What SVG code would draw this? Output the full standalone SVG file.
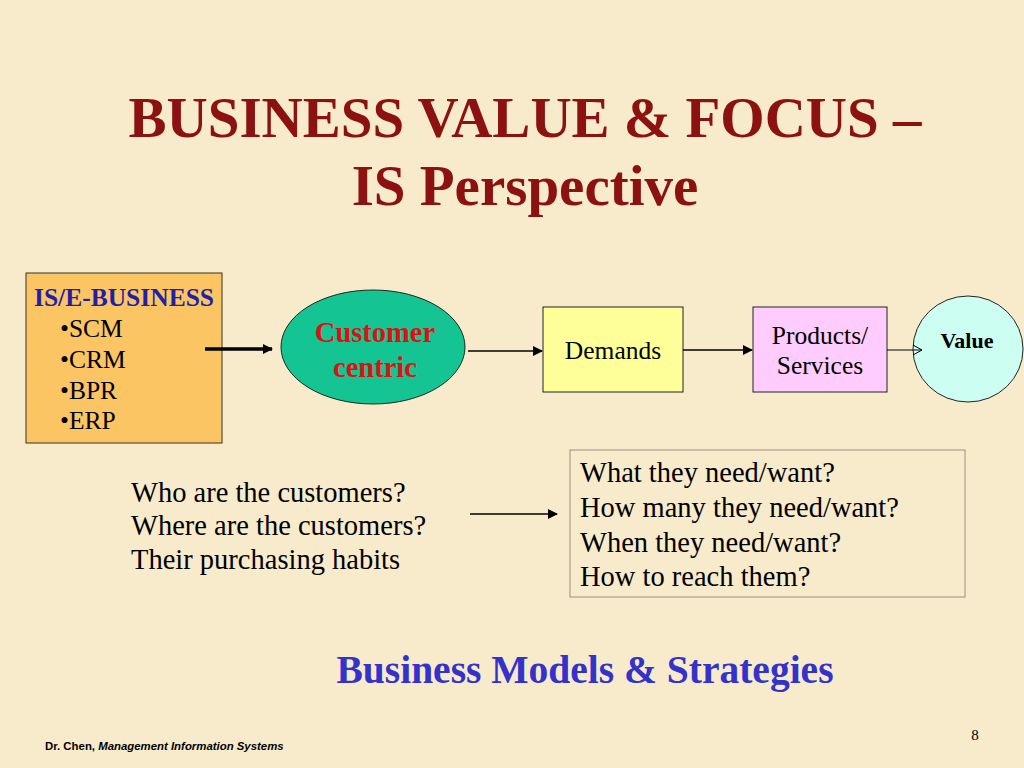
<svg xmlns="http://www.w3.org/2000/svg" width="1024" height="768" viewBox="0 0 1024 768">
<style>
.serif{font-family:"Liberation Serif","Times New Roman",serif}
.title{font-size:57px;font-weight:bold;fill:#8C1111;text-anchor:middle}
.t25{font-size:25.5px;fill:#000}
.t28{font-size:28.5px;fill:#000}
.conn{stroke:#000;stroke-width:1.5;fill:none}
</style>
<defs>
<marker id="ah" markerWidth="10" markerHeight="10" refX="9" refY="5" orient="auto" markerUnits="userSpaceOnUse">
<path d="M0,0 L10,5 L0,10 Z" fill="#000"/>
</marker>
<marker id="ahOpen" markerWidth="12" markerHeight="12" refX="10" refY="6" orient="auto" markerUnits="userSpaceOnUse">
<path d="M1,1 L10,6 L1,11" fill="none" stroke="#000" stroke-width="1"/>
</marker>
</defs>
<rect width="1024" height="768" fill="#F7EBCB"/>
<text class="serif title" x="525" y="137">BUSINESS VALUE &amp; FOCUS –</text>
<text class="serif title" x="525" y="205">IS Perspective</text>

<g id="is-ebusiness">
<rect x="26" y="273" width="196" height="170" fill="#FBC563" stroke="#3a3020" stroke-width="1"/>
<text class="serif" x="34" y="306" font-size="25.5" font-weight="bold" fill="#1F1FA8">IS/E-BUSINESS</text>
<text class="serif t25" x="60" y="337">•SCM</text>
<text class="serif t25" x="60" y="368">•CRM</text>
<text class="serif t25" x="60" y="399">•BPR</text>
<text class="serif t25" x="60" y="429">•ERP</text>
</g>

<g id="customer-centric">
<ellipse cx="373" cy="347" rx="92" ry="57" fill="#14C493" stroke="#1a2a20" stroke-width="1"/>
<text class="serif" x="375" y="342" font-size="28.5" font-weight="bold" fill="#E01010" text-anchor="middle">Customer</text>
<text class="serif" x="375" y="377" font-size="28.5" font-weight="bold" fill="#E01010" text-anchor="middle">centric</text>
</g>

<g id="demands">
<rect x="543" y="307" width="140" height="85" fill="#FFFF99" stroke="#222" stroke-width="1"/>
<text class="serif t25" x="613" y="359" text-anchor="middle">Demands</text>
</g>

<g id="products-services">
<rect x="753" y="307" width="134" height="85" fill="#FFCCFF" stroke="#222" stroke-width="1"/>
<text class="serif t25" x="820" y="344" text-anchor="middle">Products/</text>
<text class="serif t25" x="820" y="374" text-anchor="middle">Services</text>
</g>

<g id="value">
<ellipse cx="968" cy="349" rx="55" ry="53" fill="#CCFFF2" stroke="#222" stroke-width="1"/>
<text class="serif" x="967" y="348" font-size="22" font-weight="bold" fill="#000" text-anchor="middle">Value</text>
</g>

<g id="customer-questions">
<text class="serif t28" x="131" y="502">Who are the customers?</text>
<text class="serif t28" x="131" y="535">Where are the customers?</text>
<text class="serif t28" x="131" y="569">Their purchasing habits</text>
</g>

<g id="demand-questions">
<rect x="570" y="450" width="395" height="147" fill="none" stroke="#9a9080" stroke-width="1"/>
<text class="serif t28" x="580" y="482">What they need/want?</text>
<text class="serif t28" x="580" y="517">How many they need/want?</text>
<text class="serif t28" x="580" y="552">When they need/want?</text>
<text class="serif t28" x="580" y="586">How to reach them?</text>
</g>

<g id="connectors">
<line x1="205" y1="349" x2="272" y2="349" stroke="#000" stroke-width="3.5" marker-end="url(#ah)"/>
<line class="conn" x1="468" y1="351" x2="542" y2="351" marker-end="url(#ah)"/>
<line class="conn" x1="683" y1="350" x2="752" y2="350" marker-end="url(#ah)"/>
<line x1="887" y1="350" x2="922" y2="350" stroke="#000" stroke-width="1" marker-end="url(#ahOpen)"/>
<line class="conn" x1="470" y1="514" x2="557" y2="514" marker-end="url(#ah)"/>
</g>

<text class="serif" x="585" y="683" font-size="39.5" font-weight="bold" fill="#3333CC" text-anchor="middle">Business Models &amp; Strategies</text>

<text x="45" y="750" font-family="'Liberation Sans',Arial,sans-serif" font-size="11.4" font-weight="bold" fill="#000">Dr. Chen, <tspan font-style="italic">Management Information Systems</tspan></text>
<text class="serif" x="975" y="740" font-size="15" fill="#000" text-anchor="middle">8</text>
</svg>
